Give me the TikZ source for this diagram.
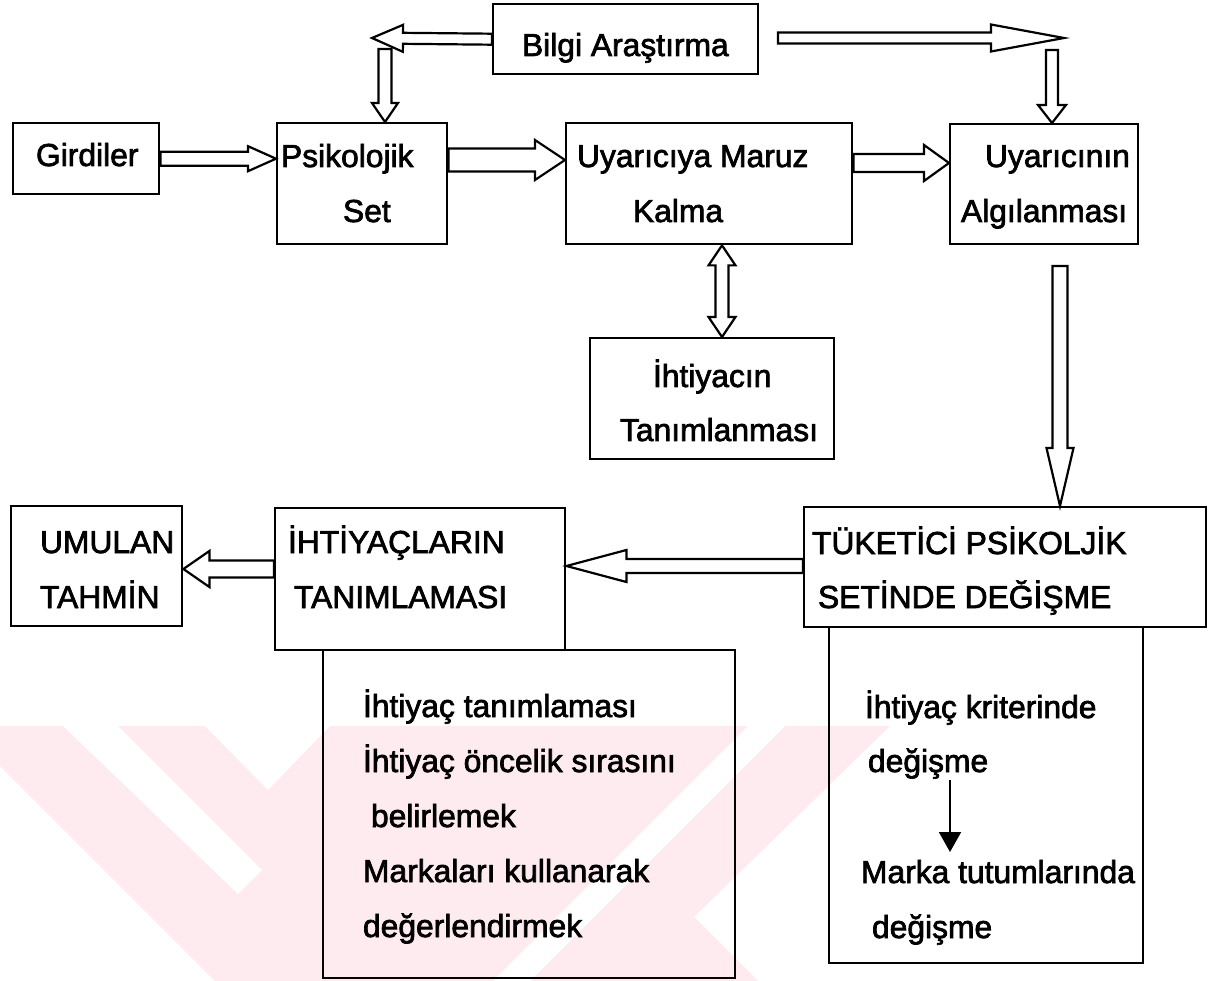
\documentclass[tikz,border=0pt]{standalone}
\usepackage{fontspec}
\setmainfont{Liberation Sans}[FakeBold=2.2]
\usetikzlibrary{calc,arrows.meta}

\definecolor{wmpink}{RGB}{253,235,239}

\tikzset{
  box/.style={draw=black, line width=2.4pt, inner sep=0pt, anchor=north west},
  lbl/.style={anchor=base west, inner sep=0pt, outer sep=0pt,
              font=\fontsize{31.8}{38}\selectfont},
  blk/.style={draw=black, line width=2.2pt, line join=miter, miter limit=30},
  thinarrow/.style={line width=2pt, -{Triangle[length=20pt,width=22pt]}},
}

% hollow block arrow: name, start, tip, shaft half-width, head half-width, head length
\newcommand\blockarrow[6]{%
  \coordinate (#1-h) at ($(#3)!#6pt!(#2)$);
  \draw[blk] ($(#2)!#4pt!90:(#3)$) -- ($(#1-h)!#4pt!-90:(#2)$)
    -- ($(#1-h)!#5pt!-90:(#2)$) -- (#3)
    -- ($(#1-h)!#5pt!90:(#2)$) -- ($(#1-h)!#4pt!90:(#2)$)
    -- ($(#2)!#4pt!-90:(#3)$) -- cycle;
}
% hollow double-headed block arrow: name, tip A, tip B, shaft half-width, head half-width, head length
\newcommand\twowayarrow[6]{%
  \coordinate (#1-a) at ($(#2)!#6pt!(#3)$);
  \coordinate (#1-b) at ($(#3)!#6pt!(#2)$);
  \draw[blk] (#2) -- ($(#1-a)!#5pt!90:(#3)$) -- ($(#1-a)!#4pt!90:(#3)$)
    -- ($(#1-b)!#4pt!-90:(#2)$) -- ($(#1-b)!#5pt!-90:(#2)$) -- (#3)
    -- ($(#1-b)!#5pt!90:(#2)$) -- ($(#1-b)!#4pt!90:(#2)$)
    -- ($(#1-a)!#4pt!-90:(#3)$) -- ($(#1-a)!#5pt!-90:(#3)$) -- cycle;
}

\begin{document}
\begin{tikzpicture}[x=1pt,y=-1pt]
\useasboundingbox (0,0) rectangle (1232,981);

% faint background chevrons
\begin{scope}
  \clip (0,726) rectangle (1232,981);
  \fill[wmpink] (-40,726) -- (890,726) -- (694,917) -- (758,981) -- (215,981) -- cycle;
  \fill[white] (63,726) -- (118,726) -- (262,870) -- (238,894) -- cycle;
  \fill[white] (205,726) -- (330,726) -- (268,790) -- cycle;
  \fill[white] (748,726) -- (785,726) -- (530,981) -- (493,981) -- cycle;
\end{scope}

% detail boxes below the second row
\node[box, minimum width=412pt, minimum height=328pt] (listL) at (322,649) {};
\node[box, minimum width=314pt, minimum height=336pt] (listR) at (828,626) {};

% main boxes
\node[box, minimum width=265pt, minimum height=70pt]  (bilgi)     at (492,3)   {};
\node[box, minimum width=146pt, minimum height=71pt]  (girdi)     at (12,122)  {};
\node[box, minimum width=170pt, minimum height=121pt] (psik)      at (276,122) {};
\node[box, minimum width=286pt, minimum height=121pt] (maruz)     at (565,122) {};
\node[box, minimum width=188pt, minimum height=120pt] (algi)      at (949,123) {};
\node[box, minimum width=244pt, minimum height=121pt] (ihtiyacin) at (589,337) {};
\node[box, minimum width=171pt, minimum height=120pt] (umulan)    at (10,505)  {};
\node[box, minimum width=290pt, minimum height=142pt] (ihtlar)    at (274,507) {};
\node[box, minimum width=402pt, minimum height=120pt] (tuketici)  at (803,506) {};

% labels
\node[lbl] (tBilgi)  at (522,56)  {Bilgi Araştırma};
\node[lbl] (tGirdi)  at (36,166)  {Girdiler};
\node[lbl] (tPsik1)  at (281,167) {Psikolojik};
\node[lbl] (tPsik2)  at (343,222) {Set};
\node[lbl] (tMaruz1) at (577,167) {Uyarıcıya Maruz};
\node[lbl] (tMaruz2) at (633,222) {Kalma};
\node[lbl] (tAlgi1)  at (985,167) {Uyarıcının};
\node[lbl] (tAlgi2)  at (961,222) {Algılanması};
\node[lbl] (tIht1)   at (653,387) {İhtiyacın};
\node[lbl] (tIht2)   at (620,441) {Tanımlanması};
\node[lbl] (tUmu1)   at (40,553)  {UMULAN};
\node[lbl] (tUmu2)   at (40,608)  {TAHMİN};
\node[lbl] (tIhl1)   at (288,553) {İHTİYAÇLARIN};
\node[lbl] (tIhl2)   at (294,608) {TANIMLAMASI};
\node[lbl] (tTuk1)   at (812,554) {TÜKETİCİ PSİKOLJİK};
\node[lbl] (tTuk2)   at (818,608) {SETİNDE DEĞİŞME};

\node[lbl] (tL1) at (363,717) {İhtiyaç tanımlaması};
\node[lbl] (tL2) at (363,772) {İhtiyaç öncelik sırasını};
\node[lbl] (tL3) at (371,827) {belirlemek};
\node[lbl] (tL4) at (363,882) {Markaları kullanarak};
\node[lbl] (tL5) at (363,937) {değerlendirmek};

\node[lbl] (tR1) at (865,718) {İhtiyaç kriterinde};
\node[lbl] (tR2) at (868,772) {değişme};
\node[lbl] (tR3) at (861,883) {Marka tutumlarında};
\node[lbl] (tR4) at (872,938) {değişme};

% anchor points for the connectors
\coordinate (bilgiTipL) at (372,38);
\coordinate (bilgiOut)  at (778,38);
\coordinate (bilgiTipR) at (1064,38);
\coordinate (psikIn)    at (385,49);
\coordinate (algiIn)    at (1052,50);
\coordinate (rowA)      at (0,160);
\coordinate (rowB)      at (0,163);
\coordinate (colC)      at (722,0);
\coordinate (algiOut)   at (1060,266);
\coordinate (rowD)      at (0,566);
\coordinate (rowE)      at (0,569);
\coordinate (chgTop)    at (950,780);
\coordinate (chgTip)    at (950,852);

% block arrows
\blockarrow{aBL}{bilgi.west}{bilgiTipL}{5.5}{13.5}{31}
\blockarrow{aBR}{bilgiOut}{bilgiTipR}{5.5}{13.5}{73}
\blockarrow{aPs}{psikIn}{psik.north -| psikIn}{6.5}{13}{19}
\blockarrow{aAl}{algiIn}{algi.north -| algiIn}{6}{14}{18}
\blockarrow{aGi}{girdi.east}{psik.west |- girdi.east}{7}{12.5}{28}
\blockarrow{aPM}{psik.east |- rowA}{maruz.west |- rowA}{11.5}{20}{30}
\blockarrow{aMA}{maruz.east |- rowB}{algi.west |- rowB}{9}{18}{25}
\twowayarrow{aMI}{maruz.south -| colC}{ihtiyacin.north -| colC}{6.5}{13.5}{20}
\blockarrow{aAT}{algiOut}{tuketici.north -| algiOut}{7.5}{13.5}{58}
\blockarrow{aTI}{tuketici.west |- rowD}{ihtlar.east |- rowD}{7}{16}{60}
\blockarrow{aIU}{ihtlar.west |- rowE}{umulan.east |- rowE}{8.5}{18}{26}

% plain arrow inside the right detail box
\draw[thinarrow] (chgTop) -- (chgTip);

\end{tikzpicture}
\end{document}
